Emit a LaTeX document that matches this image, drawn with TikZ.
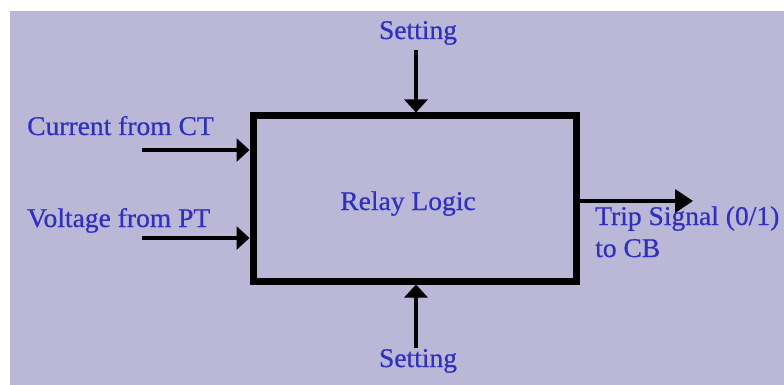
\documentclass[tikz,border=0pt]{standalone}
\usepackage{fontspec}
\setmainfont{Liberation Serif}
\newfontfamily\lblfont[FakeBold=0.6,FakeStretch=1.02]{Liberation Serif}
\usetikzlibrary{arrows.meta}
\definecolor{bglav}{RGB}{187,183,214}
\definecolor{txtblue}{RGB}{48,48,192}
\tikzset{
  lbl/.style={inner sep=0pt, text=txtblue, font=\lblfont\fontsize{27}{32}\selectfont},
  conn/.style={line width=4pt, -{Triangle[length=13pt,width=23pt]}},
  outconn/.style={line width=4pt, -{Triangle[length=18pt,width=23pt]}},
  relaybox/.style={draw, line width=7pt, minimum width=323pt, minimum height=165pt, inner sep=0pt}
}
\begin{document}
\begin{tikzpicture}[x=1pt,y=-1pt]
\useasboundingbox (0,0) rectangle (784,385);
\fill[white] (0,0) rectangle (784,385);
\fill[bglav] (10,11) rectangle (784,385);
\node[relaybox] (box) at (414.5,198.5) {};
\node[lbl, anchor=base] (relay) at (408,210) {Relay Logic};
\node[lbl, anchor=base] (settop) at (418,39) {Setting};
\node[lbl, anchor=base] (setbot) at (418,367) {Setting};
\node[lbl, anchor=base west] (cur) at (27,135) {Current from CT};
\node[lbl, anchor=base west] (volt) at (27,227) {Voltage from PT};
\node[lbl, anchor=base west] (trip) at (595,225) {Trip Signal (0/1)};
\node[lbl, anchor=base west] (tocb) at (595,257) {to CB};
\coordinate (c1) at (142,150);
\coordinate (c2) at (142,238);
\coordinate (t1) at (416,50);
\coordinate (b1) at (416,348);
\coordinate (o1) at (693,201);
\draw[conn] (c1) -- (c1 -| box.west);
\draw[conn] (c2) -- (c2 -| box.west);
\draw[conn] (t1) -- (t1 |- box.north);
\draw[conn] (b1) -- (b1 |- box.south);
\draw[outconn] (o1 -| box.east) -- (o1);
\end{tikzpicture}
\end{document}
